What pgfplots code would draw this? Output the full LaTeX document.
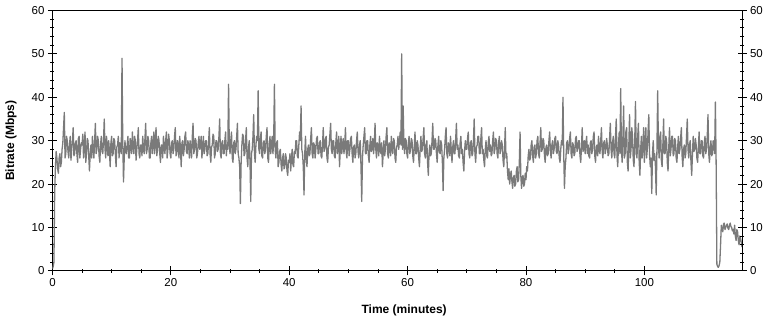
\documentclass[border=0pt]{standalone}
\usepackage{fontspec}
\setmainfont{Liberation Sans}
\usepackage{pgfplots}
\usepackage{pgfplotstable}
\pgfplotsset{compat=1.18}
% bitrate samples every 0.125 min
\pgfplotstableread[row sep=\\]{
y\\
0.5\\1\\2\\18\\24\\27.5\\26\\23.5\\22.5\\26\\27\\24\\25\\28\\29.5\\33\\36.5\\26\\27\\31\\30\\27.5\\26\\29\\31\\25.5\\28\\30\\33\\26.5\\27\\29.5\\30\\27\\25\\30.5\\31\\26\\28\\29.5\\
29\\31.5\\26\\28.5\\32\\25\\27\\30.5\\30\\26.5\\23\\27\\29\\26\\31\\28\\26\\30\\34\\27\\28\\31\\30\\26.5\\25\\29\\31\\27.5\\27\\30\\35\\28\\26\\31\\29\\26.5\\30\\27.5\\24\\29.5\\
31\\26.5\\27\\30.5\\30\\27\\24\\28.5\\29\\31\\26\\29.5\\28\\27\\49\\30\\20.5\\26\\30\\27.5\\27\\29\\31\\26\\26\\30.5\\29\\27\\32\\28.5\\27\\31\\30\\25.5\\28\\30\\33\\27\\26\\29\\
29\\26.5\\31\\28\\27\\30.5\\34\\27\\28\\31\\30\\26\\26\\29.5\\31\\27\\29\\32\\27\\30\\33\\26.5\\28\\31\\30\\27\\25\\29\\29\\26\\31\\28.5\\27\\30\\32\\26\\28\\31.5\\30\\27\\
26\\29.5\\30\\27\\28\\31\\33\\26.5\\27\\30\\29\\26\\31\\28\\24\\29.5\\30\\26.5\\28\\31\\32\\27.5\\27\\30\\29\\26\\30\\28\\26\\31\\34\\27\\28\\30.5\\30\\26\\27\\29.5\\31\\28\\
29\\31\\26\\28.5\\31\\27\\28\\30\\30\\26.5\\27\\29.5\\33\\27\\25\\28.5\\29\\31.5\\31\\26\\27\\30\\30\\27.5\\28\\31\\35\\27\\26\\29.5\\30\\27\\27\\30\\32\\26.5\\29\\28\\43\\29\\
27\\30\\32\\26\\25\\29.5\\30\\27\\28\\31\\34\\27\\26\\24\\15.5\\25\\29\\31.5\\31\\26.5\\27\\30\\33\\26\\24\\28.5\\30\\25\\16\\27\\28\\31\\36\\27\\25\\29\\31\\30\\41.5\\28\\
27\\30.5\\32\\26.5\\26\\29.5\\30\\27\\28\\31\\33\\26\\25\\29\\31\\27\\29\\31\\27\\30\\43\\28\\26\\29.5\\30\\24\\25\\27.5\\28\\24.5\\23\\26\\27\\23.5\\24\\27\\26\\23\\22\\25.5\\
25\\27\\23\\26\\28\\24.5\\24\\27.5\\27\\30\\30\\26.5\\26\\29\\32\\30\\38\\28\\27\\24\\17.5\\27\\31\\26\\24\\28\\29\\26.5\\27\\30.5\\33\\27\\26\\29.5\\29\\26\\28\\30.5\\31\\27\\
27\\29.5\\30\\26.5\\26\\29\\33\\27.5\\28\\30.5\\31\\26\\25\\28.5\\29\\31.5\\34\\28\\27\\30\\30\\26.5\\26\\29.5\\32\\27\\28\\31\\24\\28\\31\\27\\29\\30.5\\27\\29\\33\\27.5\\26\\30\\
30\\26.5\\28\\30.5\\31\\27\\25\\28.5\\29\\26\\27\\30\\32\\27.5\\26\\29\\30\\24\\16\\26\\29\\31\\33\\27\\27\\30\\30\\26.5\\25\\29\\31\\27.5\\28\\30.5\\27\\29\\34\\28\\26\\29.5\\
29\\26.5\\31\\28\\27\\29.5\\24\\27\\30\\26.5\\28\\31\\33\\27\\26\\29.5\\29\\26.5\\31\\28\\27\\30.5\\30\\26\\25\\28.5\\29\\31\\28\\30\\32\\29\\50\\28\\38\\29\\27\\30.5\\30\\27\\
26\\29.5\\31\\27\\28\\30.5\\30\\26.5\\25\\28.5\\32\\27\\27\\30\\29\\26\\24\\28\\31\\27.5\\28\\30.5\\33\\27\\26\\29\\30\\25\\22\\27\\29\\26.5\\27\\30\\34\\28\\28\\30.5\\30\\27\\
25\\29\\31\\27.5\\27\\30\\29\\25\\18.5\\26\\28\\31\\33\\27\\26\\29.5\\29\\26.5\\31\\28\\25\\28.5\\30\\27\\27\\30.5\\34\\28\\29\\26.5\\26\\29.5\\31\\27\\28\\25\\23\\27.5\\30\\28\\
28\\30.5\\32\\27\\26\\29.5\\30\\26.5\\27\\30\\35\\27\\25\\28.5\\29\\31\\31\\27\\27\\30.5\\33\\27\\28\\25.5\\24\\28\\30\\26.5\\26\\29.5\\31\\27.5\\29\\26.5\\27\\30\\32\\27\\28\\30.5\\
30\\27\\26\\29.5\\31\\27\\28\\30\\29\\25.5\\24\\28\\33\\26\\27\\23\\21\\23.5\\20\\22\\23\\20.5\\19\\21.5\\22\\19.5\\20\\23\\24\\20.5\\21\\25\\32\\22\\19\\21.5\\22\\19.5\\20\\22.5\\
21\\24\\23\\26.5\\28\\25.5\\26\\29\\30\\26.5\\25\\28.5\\29\\26\\27\\30\\31\\27\\26\\29.5\\33\\27.5\\28\\30.5\\30\\26.5\\25\\28.5\\29\\26.5\\27\\30\\32\\27.5\\26\\29\\30\\27\\28\\30.5\\
31\\27.5\\27\\30\\29\\26\\25\\28\\30\\29\\40\\27\\19\\24\\26\\29.5\\30\\27\\28\\30.5\\32\\27\\26\\29.5\\29\\26.5\\27\\30.5\\31\\27.5\\28\\30\\30\\26.5\\25\\28.5\\33\\27.5\\28\\30\\
27\\29.5\\31\\27\\29\\26.5\\26\\29.5\\30\\27\\28\\31\\32\\26.5\\25\\28.5\\29\\26.5\\31\\28\\27\\30\\33\\27.5\\26\\29.5\\30\\27\\28\\30.5\\29\\26.5\\27\\30.5\\34\\28\\26\\29.5\\31\\27\\
26\\31\\35\\26.5\\24\\29\\32\\27\\42\\28\\25\\31\\38\\26\\27\\32\\33\\25\\23\\29\\36\\26\\28\\33\\31\\25.5\\24\\30\\39\\27\\26\\31\\34\\25\\22\\28\\31\\26\\28\\33\\
25\\30\\33\\26\\28\\32\\36\\27\\24\\26\\17.8\\27\\30\\25.5\\27\\24\\17.5\\28\\41.5\\29\\26\\31\\32\\25.5\\24\\29\\35\\27\\27\\31\\30\\25\\23\\28.5\\33\\26.5\\28\\31\\31\\26.5\\
27\\30.5\\30\\26\\25\\28.5\\31\\27\\28\\30.5\\33\\26.5\\24\\28\\29\\26\\27\\31\\35\\28\\26\\29\\30\\25\\22\\27\\31\\27.5\\28\\30.5\\29\\26\\25\\28.5\\32\\27\\27\\30\\30\\26.5\\
26\\29.5\\31\\27\\28\\31\\36\\27\\25\\28.5\\30\\26.5\\27\\30\\29\\27\\38.9\\25\\1.5\\1\\0.8\\1.2\\2\\6\\10.5\\9.5\\9\\10.8\\11\\9.5\\10\\10.5\\10.8\\9.8\\9.5\\10.5\\11\\10.2\\10\\9.2\\
9.5\\8.5\\10.5\\8\\7\\9.5\\9\\7\\6\\8\\7.5\\6.5\\5.5\\
}\bitrate
\definecolor{linegray}{RGB}{122,122,122}
\begin{document}
\begin{tikzpicture}
\useasboundingbox (-52.5pt,-52pt) rectangle (721pt,271pt);
\begin{axis}[
  name=main,
  scale only axis, width=690pt, height=260.5pt,
  xmin=0, xmax=116.5, ymin=0, ymax=60,
  xtick={0,20,...,100}, ytick={0,10,...,60},
  minor x tick num=3, minor y tick num=4,
  xtick pos=left, ytick pos=left,
  tick align=center,
  major tick length=9pt, minor tick length=4pt,
  every tick/.style={black, line width=0.8pt},
  axis line style={line width=0.8pt},
  tick label style={font=\fontsize{11.5}{13}\selectfont},
  /pgf/number format/assume math mode=true,
  xlabel={Time (minutes)}, ylabel={Bitrate (Mbps)},
  label style={font=\fontsize{12}{14}\selectfont\bfseries},
  xlabel style={at={(axis description cs:0.51,-0.1535)}, anchor=center},
  ylabel style={at={(axis description cs:-0.0601,0.5)}, anchor=center},
  clip=true,
]
\addplot[color=linegray, line width=1.3pt, line join=round, no markers] table[x expr=\coordindex*0.125, y=y]{\bitrate};
\end{axis}
\begin{axis}[
  scale only axis, width=690pt, height=260.5pt,
  xmin=0, xmax=116.5, ymin=0, ymax=60,
  axis x line*=top, axis y line*=right,
  xtick=\empty, minor xtick={5,10,...,115},
  ytick={0,10,...,60}, minor y tick num=4,
  tick align=center,
  major tick length=9pt, minor tick length=4pt,
  every tick/.style={black, line width=0.8pt},
  axis line style={line width=0.8pt, -},
  tick label style={font=\fontsize{11.5}{13}\selectfont},
  /pgf/number format/assume math mode=true,
]
\end{axis}
\end{tikzpicture}
\end{document}
